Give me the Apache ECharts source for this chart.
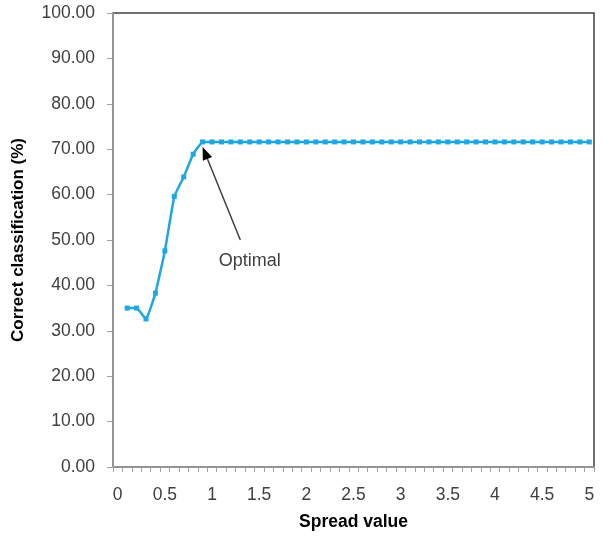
<!DOCTYPE html>
<html>
<head>
<meta charset="utf-8">
<script src="https://cdn.jsdelivr.net/npm/echarts@6/dist/echarts.min.js"></script>
<style>
html,body{margin:0;padding:0;background:#fff;}
#chart{width:603px;height:538px;}
</style>
</head>
<body>
<div id="chart"></div>
<script>
var categories = ['0','0.1','0.2','0.3','0.4','0.5','0.6','0.7','0.8','0.9',
  '1','1.1','1.2','1.3','1.4','1.5','1.6','1.7','1.8','1.9',
  '2','2.1','2.2','2.3','2.4','2.5','2.6','2.7','2.8','2.9',
  '3','3.1','3.2','3.3','3.4','3.5','3.6','3.7','3.8','3.9',
  '4','4.1','4.2','4.3','4.4','4.5','4.6','4.7','4.8','4.9','5'];
var correct = ['-',35.0,35.0,32.6,38.3,47.6,59.6,63.9,68.9,71.6,
  71.6,71.6,71.6,71.6,71.6,71.6,71.6,71.6,71.6,71.6,
  71.6,71.6,71.6,71.6,71.6,71.6,71.6,71.6,71.6,71.6,
  71.6,71.6,71.6,71.6,71.6,71.6,71.6,71.6,71.6,71.6,
  71.6,71.6,71.6,71.6,71.6,71.6,71.6,71.6,71.6,71.6,71.6];
var yTicks = [0,10,20,30,40,50,60,70,80,90,100];
var annotationText = 'Optimal';
var arrowFrom = [13.1, 50];   // [category index, value]
var arrowTo = [9.4, 70.5];
var textAt = [13.9, 45.3];

var chart = echarts.init(document.getElementById('chart'));
var font = '"Liberation Sans", Arial, sans-serif';
chart.setOption({
  backgroundColor: '#fff',
  animation: false,
  grid: {left: 113, right: 9, top: 13, bottom: 71, show: true, borderColor: '#404040', borderWidth: 1.5,
    containLabel: false, outerBoundsMode: 'none'},
  xAxis: {
    type: 'category', data: categories, boundaryGap: true,
    name: 'Spread value', nameLocation: 'middle', nameGap: 46,
    nameTextStyle: {fontFamily: font, fontSize: 17.5, fontWeight: 'bold', color: '#000'},
    axisLine: {lineStyle: {color: '#a0a0a0', width: 1.5}},
    axisTick: {show: true, interval: 0, inside: false, length: 5, lineStyle: {color: '#a0a0a0'}},
    axisLabel: {interval: 4, fontFamily: font, fontSize: 17.5, color: '#404040', margin: 19},
    splitLine: {show: false}
  },
  yAxis: {
    type: 'value', min: yTicks[0], max: yTicks[yTicks.length-1], interval: 10,
    name: 'Correct classification (%)', nameLocation: 'middle', nameGap: 86,
    nameTextStyle: {fontFamily: font, fontSize: 17, fontWeight: 'bold', color: '#000'},
    axisLine: {show: true, lineStyle: {color: '#a0a0a0', width: 1.5}},
    axisTick: {show: true, inside: false, length: 6, lineStyle: {color: '#a0a0a0'}},
    axisLabel: {fontFamily: font, fontSize: 17.5, color: '#404040', margin: 18,
      formatter: function(v){ return v.toFixed(2); }},
    splitLine: {show: false}
  },
  series: [{
    type: 'line', data: correct, connectNulls: false, smooth: 0.1,
    symbol: 'rect', symbolSize: 5, showSymbol: true,
    lineStyle: {color: '#1ea7e4', width: 2.5},
    itemStyle: {color: '#1ea7e4'}
  }]
});

function drawAnnotation(){
  var a = chart.convertToPixel({gridIndex: 0}, arrowFrom);
  var b = chart.convertToPixel({gridIndex: 0}, arrowTo);
  var t = chart.convertToPixel({gridIndex: 0}, textAt);
  var dx = b[0]-a[0], dy = b[1]-a[1];
  var len = Math.sqrt(dx*dx+dy*dy);
  var ux = dx/len, uy = dy/len;
  var hl = 13, hw = 5;
  var base = [b[0]-ux*hl, b[1]-uy*hl];
  var p1 = [base[0]-uy*hw, base[1]+ux*hw];
  var p2 = [base[0]+uy*hw, base[1]-ux*hw];
  chart.setOption({graphic: [
    {type: 'line', shape: {x1: a[0], y1: a[1], x2: base[0], y2: base[1]},
      style: {stroke: '#404040', lineWidth: 1.5}},
    {type: 'polygon', shape: {points: [b, p1, p2]}, style: {fill: '#000'}},
    {type: 'text', x: t[0], y: t[1],
      style: {text: annotationText, font: '18px ' + font, fill: '#404040', textAlign: 'center', textVerticalAlign: 'middle'}}
  ]});
}
drawAnnotation();
</script>
</body>
</html>
